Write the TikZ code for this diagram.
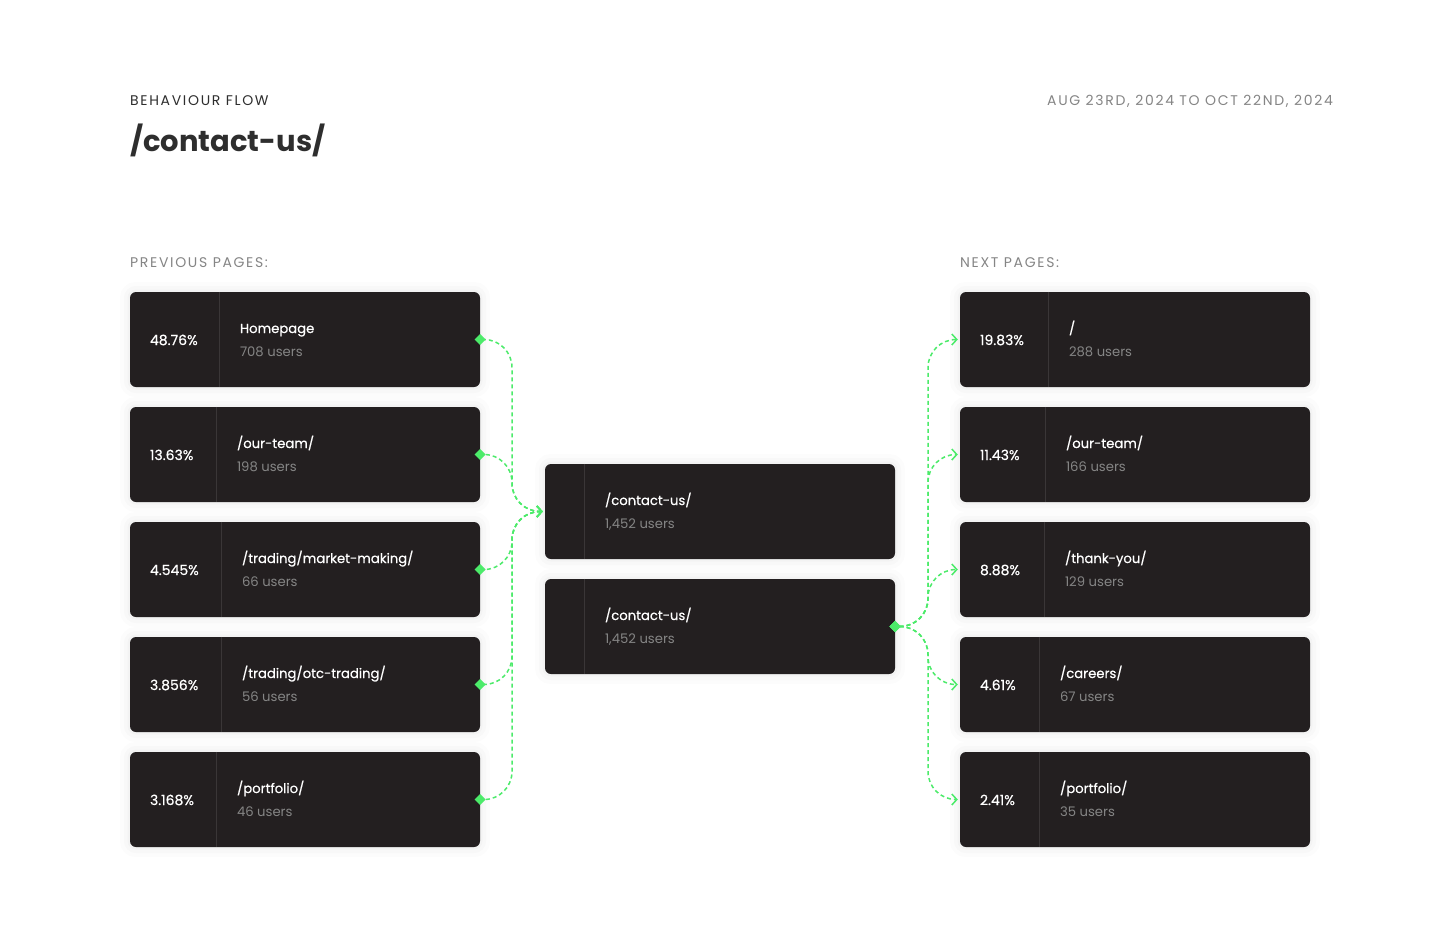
\documentclass[tikz,border=0pt]{standalone}
\usepackage{fontspec}
\setmainfont{Poppins}
\newfontfamily\spaced[LetterSpace=12]{Poppins}
\newfontfamily\boxfont[FakeBold=0.5]{Poppins}
\usetikzlibrary{arrows.meta}

\definecolor{boxbg}{HTML}{231F20}
\definecolor{rulegray}{HTML}{3A3637}
\definecolor{ink}{HTML}{2E2E2E}
\definecolor{muted}{HTML}{858585}
\definecolor{flowgreen}{HTML}{4CEB6A}

\tikzset{
    pagebox/.style={fill=boxbg, rounded corners=6pt, minimum width=350pt,
        minimum height=95pt, inner sep=0pt,
        preaction={draw=black, draw opacity=0.012, line width=20pt},
        preaction={draw=black, draw opacity=0.015, line width=12pt},
        preaction={draw=black, draw opacity=0.02, line width=5pt}},
    divider/.style={draw=rulegray, line width=1pt},
    pct/.style={anchor=base west, inner sep=0pt, text=white,
        font=\boxfont\fontsize{14}{16}\selectfont},
    pname/.style={pct, font=\boxfont\fontsize{13.2}{16}\selectfont},
    pusers/.style={pct, text=muted, font=\fontsize{13.2}{16}\selectfont},
    caption/.style={anchor=base west, inner sep=0pt, text=muted,
        font=\spaced\fontsize{14}{16}\selectfont},
    flow/.style={draw=flowgreen, line width=1.5pt, dash pattern=on 4pt off 3pt,
        rounded corners=28pt,
        {Straight Barb[length=5pt,width=11pt]}-{Diamond[length=11pt,width=11pt]},
        shorten <=2pt, shorten >=-5.5pt}
}

\begin{document}
\begin{tikzpicture}[x=1pt,y=-1pt]
    \useasboundingbox[fill=white] (0,0) rectangle (1440,937);

    % header
    \node[caption, text=ink] (kicker) at (130,105) {BEHAVIOUR FLOW};
    \node[anchor=base west, inner sep=0pt, text=ink,
        font=\fontsize{29}{32}\selectfont\bfseries] (title) at (130,151) {/contact-us/};
    \node[caption, anchor=base east] (period) at (1333,105) {AUG 23RD, 2024 TO OCT 22ND, 2024};

    \node[caption] (prevcap) at (130,267) {PREVIOUS PAGES:};
    \node[caption] (nextcap) at (960,267) {NEXT PAGES:};

    % previous pages
    \foreach \nm/\y/\pc/\dx/\lbl/\usr in {
        p1/339.5/48.76\%/90/Homepage/708 users,
        p2/454.5/13.63\%/87/{/our-team/}/198 users,
        p3/569.5/4.545\%/92/{/trading/market-making/}/66 users,
        p4/684.5/3.856\%/92/{/trading/otc-trading/}/56 users,
        p5/799.5/3.168\%/87/{/portfolio/}/46 users}{
        \node[pagebox] (\nm) at (305,\y) {};
        \draw[divider] ([xshift=\dx pt]\nm.north west) -- ([xshift=\dx pt]\nm.south west);
        \node[pct] (\nm-pct) at ([xshift=20pt,yshift=-5.5pt]\nm.west) {\pc};
        \node[pname] (\nm-name) at ([xshift=\dx pt+20pt,yshift=6.5pt]\nm.west) {\lbl};
        \node[pusers] (\nm-users) at ([xshift=\dx pt+20pt,yshift=-17pt]\nm.west) {\usr};
    }

    % current page
    \foreach \nm/\y in {m1/511.5, m2/626.5}{
        \node[pagebox] (\nm) at (720,\y) {};
        \draw[divider] ([xshift=40pt]\nm.north west) -- ([xshift=40pt]\nm.south west);
        \node[pname] (\nm-name) at ([xshift=60pt,yshift=6.5pt]\nm.west) {/contact-us/};
        \node[pusers] (\nm-users) at ([xshift=60pt,yshift=-17pt]\nm.west) {1,452 users};
    }

    % next pages
    \foreach \nm/\y/\pc/\dx/\lbl/\usr in {
        n1/339.5/19.83\%/89/{/}/288 users,
        n2/454.5/11.43\%/86/{/our-team/}/166 users,
        n3/569.5/8.88\%/85/{/thank-you/}/129 users,
        n4/684.5/4.61\%/80/{/careers/}/67 users,
        n5/799.5/2.41\%/80/{/portfolio/}/35 users}{
        \node[pagebox] (\nm) at (1135,\y) {};
        \draw[divider] ([xshift=\dx pt]\nm.north west) -- ([xshift=\dx pt]\nm.south west);
        \node[pct] (\nm-pct) at ([xshift=20pt,yshift=-5.5pt]\nm.west) {\pc};
        \node[pname] (\nm-name) at ([xshift=\dx pt+20pt,yshift=6.5pt]\nm.west) {\lbl};
        \node[pusers] (\nm-users) at ([xshift=\dx pt+20pt,yshift=-17pt]\nm.west) {\usr};
    }

    % flows (drawn from the shared end so the dashes line up)
    \coordinate (lbus) at (512,0);
    \coordinate (rbus) at (928,0);
    \foreach \src in {p1,p2,p3,p4,p5}
        \draw[flow] (m1.west) -| (lbus |- \src.east) -- (\src.east);
    \foreach \dst in {n1,n2,n3,n4,n5}
        \draw[flow, {Diamond[length=11pt,width=11pt]}-{Straight Barb[length=5pt,width=11pt]},
            shorten <=-5.5pt, shorten >=2pt] (m2.east) -| (rbus |- \dst.west) -- (\dst.west);

\end{tikzpicture}
\end{document}
